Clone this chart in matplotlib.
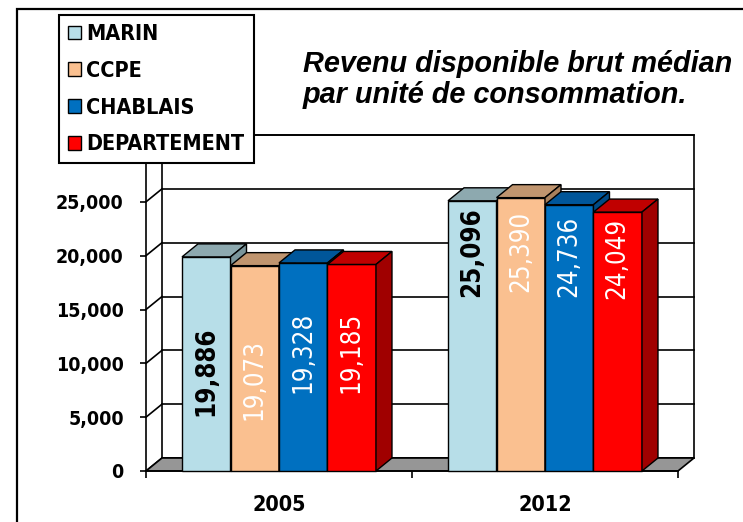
import matplotlib
matplotlib.use("Agg")
import matplotlib.pyplot as plt
from matplotlib.patches import Polygon, Rectangle, Patch
from matplotlib import font_manager as fm
import numpy as np

# ---- data ----
years = ["2005", "2012"]
series = ["MARIN", "CCPE", "CHABLAIS", "DEPARTEMENT"]
marin = [19886, 25096]
ccpe = [19073, 25390]
chablais = [19328, 24736]
departement = [19185, 24049]
value_labels = [["19,886", "25,096"], ["19,073", "25,390"],
                ["19,328", "24,736"], ["19,185", "24,049"]]
yticks = [0, 5000, 10000, 15000, 20000, 25000]
ytick_labels = ["0", "5,000", "10,000", "15,000", "20,000", "25,000"]
ymax = 30000
title = "Revenu disponible brut médian\npar unité de consommation."

# ---- style ----
front_cols = ["#B7DEE8", "#FAC090", "#0070C0", "#FF0000"]
top_cols = ["#8DA9AF", "#C0956F", "#00569A", "#C00000"]
side_cols = ["#7A959B", "#A8805C", "#004A85", "#A00000"]
label_cols = ["black", "white", "white", "white"]
label_weights = ["bold", "normal", "normal", "normal"]
label_centers = [[9250, 20355], [8460, 20355], [11010, 19930], [11010, 19700]]


def nfont(size, weight="normal"):
    return fm.FontProperties(family=["DejaVu Sans"], stretch="condensed", weight=weight, size=size)


W, H = 743, 522
fig = plt.figure(figsize=(W / 100, H / 100), dpi=100)
fig.patch.set_facecolor("white")

fig.patches.append(Rectangle((17 / W, -0.1), 1.2, 1.1 - 9 / H, transform=fig.transFigure,
                             fill=False, edgecolor="black", lw=1.6, zorder=0))

x0, x1, y0p, y1p = 146, 678, 471, 148
ax = fig.add_axes([x0 / W, (H - y0p) / H, (x1 - x0) / W, (y0p - y1p) / H])
ax.set_xlim(-0.5, 1.5)
ax.set_ylim(0, ymax)
ax.set_facecolor("none")

px_per_x = (x1 - x0) / 2.0
px_per_y = (y0p - y1p) / ymax
dX = 16 / px_per_x
dY = 13 / px_per_y

LW = 1.2
wall = Polygon([(-0.5 + dX, dY), (1.5 + dX, dY), (1.5 + dX, ymax + dY), (-0.5 + dX, ymax + dY)],
               closed=True, facecolor="white", edgecolor="black", lw=LW, zorder=1, clip_on=False)
ax.add_patch(wall)
for v in yticks + [ymax]:
    ax.plot([-0.5 + dX, 1.5 + dX], [v + dY, v + dY], color="black", lw=LW, zorder=1.1, clip_on=False)
    ax.plot([-0.5, -0.5 + dX], [v, v + dY], color="black", lw=LW, zorder=1.1, clip_on=False)
floor = Polygon([(-0.5, 0), (1.5, 0), (1.5 + dX, dY), (-0.5 + dX, dY)], closed=True,
                facecolor="#969696", edgecolor="black", lw=LW, zorder=1.5, clip_on=False)
ax.add_patch(floor)

xs = np.arange(len(years))
bw = 0.1823
all_vals = [marin, ccpe, chablais, departement]
for i, vals in enumerate(all_vals):
    pos = xs + (i - 1.5) * bw
    z = 3 + i * 0.1
    bars = ax.bar(pos, vals, width=bw, color=front_cols[i], edgecolor="black", lw=1.0,
                  zorder=z, label=series[i], clip_on=False)
    for b, v in zip(bars, vals):
        l = b.get_x()
        r = l + b.get_width()
        top = Polygon([(l, v), (r, v), (r + dX, v + dY), (l + dX, v + dY)], closed=True,
                      facecolor=top_cols[i], edgecolor="black", lw=1.0, zorder=z + 0.05, clip_on=False)
        side = Polygon([(r, 0), (r + dX, dY), (r + dX, v + dY), (r, v)], closed=True,
                       facecolor=side_cols[i], edgecolor="black", lw=1.0, zorder=z + 0.05, clip_on=False)
        ax.add_patch(top)
        ax.add_patch(side)
    for j, p in enumerate(pos):
        ax.text(p, label_centers[i][j], value_labels[i][j], rotation=90, ha="center", va="center",
                color=label_cols[i], fontproperties=nfont(18.5, label_weights[i]), zorder=10)

for s in ["top", "right"]:
    ax.spines[s].set_visible(False)
ax.spines["left"].set_linewidth(LW)
ax.spines["bottom"].set_linewidth(LW)
ax.spines["left"].set_zorder(2)
ax.spines["bottom"].set_zorder(2)
ax.set_yticks(yticks)
ax.set_yticklabels(ytick_labels, fontproperties=nfont(14, "bold"))
ax.tick_params(axis="y", length=4, width=LW, pad=12)
ax.set_xticks(xs)
ax.set_xticklabels(years, fontproperties=nfont(15.5, "bold"))
ax.set_xticks([-0.5, 0.5, 1.5], minor=True)
ax.tick_params(axis="x", which="major", length=0, pad=17)
ax.tick_params(axis="x", which="minor", length=5, width=LW)

handles = [Patch(facecolor=front_cols[i], edgecolor="black", lw=1.0) for i in range(4)]
leg = fig.legend(handles, series, loc="upper left", bbox_to_anchor=(59 / W, 1 - 15 / H),
                 prop=nfont(15.5, "bold"),
                 frameon=True, fancybox=False, framealpha=1, edgecolor="black",
                 handlelength=0.6, handleheight=0.6, handletextpad=0.25,
                 labelspacing=0.78, borderpad=0.42, borderaxespad=0)
leg.get_frame().set_linewidth(1.5)
leg.set_zorder(20)

fig.text(303 / W, 1 - 50 / H, title, ha="left", va="top", fontsize=20.8,
         fontweight="bold", fontstyle="italic", family=["Liberation Sans", "DejaVu Sans"],
         linespacing=1.15)

fig.savefig("out.png", dpi=100)
